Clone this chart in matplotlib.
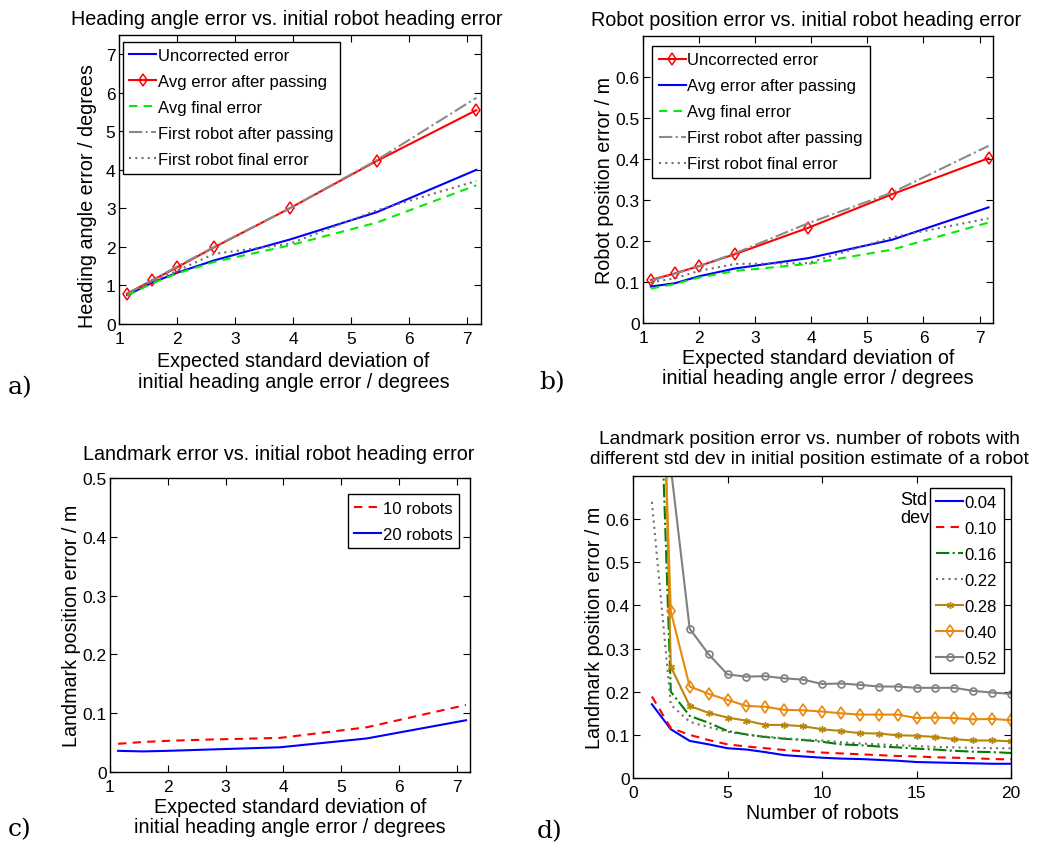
import matplotlib
matplotlib.use("Agg")
import matplotlib.pyplot as plt
from matplotlib.ticker import FixedLocator, FixedFormatter

plt.rcParams['font.family'] = ['Liberation Sans', 'DejaVu Sans']
plt.rcParams['font.size'] = 12

# ---------------- data ----------------
init_heading_std = [1.14, 1.57, 2.0, 2.64, 3.94, 5.44, 7.16]

# a) heading angle error (degrees)
a_uncorrected = [0.75, 1.07, 1.33, 1.65, 2.19, 2.90, 4.00]
a_avg_after_passing = [0.79, 1.13, 1.47, 1.99, 3.00, 4.23, 5.55]
a_avg_final = [0.74, 1.05, 1.31, 1.61, 2.04, 2.63, 3.60]
a_first_after_passing = [0.78, 1.14, 1.49, 2.00, 3.00, 4.25, 5.87]
a_first_final = [0.77, 1.10, 1.38, 1.82, 2.08, 2.95, 3.71]

# b) robot position error (m)
b_uncorrected = [0.105, 0.121, 0.139, 0.168, 0.232, 0.314, 0.402]
b_avg_after_passing = [0.089, 0.097, 0.114, 0.133, 0.158, 0.203, 0.282]
b_avg_final = [0.084, 0.095, 0.111, 0.127, 0.144, 0.179, 0.245]
b_first_after_passing = [0.103, 0.120, 0.138, 0.170, 0.243, 0.318, 0.432]
b_first_final = [0.099, 0.109, 0.127, 0.144, 0.146, 0.209, 0.255]

# c) landmark error (m)
c_10_robots = [0.048, 0.051, 0.053, 0.055, 0.058, 0.076, 0.114]
c_20_robots = [0.036, 0.035, 0.036, 0.038, 0.042, 0.057, 0.088]

# d) landmark error vs number of robots
n_robots = list(range(1, 21))
d_std_labels = ['0.04', '0.10', '0.16', '0.22', '0.28', '0.40', '0.52']
d_004 = [0.171, 0.113, 0.086, 0.078, 0.069, 0.066, 0.060, 0.053, 0.050, 0.047,
         0.045, 0.044, 0.042, 0.040, 0.037, 0.036, 0.035, 0.034, 0.033, 0.033]
d_010 = [0.189, 0.116, 0.100, 0.088, 0.078, 0.073, 0.069, 0.065, 0.062, 0.059,
         0.057, 0.055, 0.053, 0.051, 0.050, 0.048, 0.047, 0.046, 0.044, 0.043]
d_016 = [1.50, 0.200, 0.144, 0.128, 0.109, 0.101, 0.095, 0.091, 0.088, 0.084,
         0.078, 0.076, 0.073, 0.071, 0.068, 0.066, 0.063, 0.061, 0.060, 0.058]
d_022 = [0.640, 0.170, 0.130, 0.118, 0.107, 0.100, 0.096, 0.092, 0.089, 0.087,
         0.083, 0.080, 0.078, 0.076, 0.074, 0.072, 0.071, 0.070, 0.069, 0.069]
d_028 = [2.10, 0.258, 0.167, 0.151, 0.140, 0.133, 0.123, 0.123, 0.120, 0.113,
         0.109, 0.104, 0.103, 0.099, 0.098, 0.095, 0.090, 0.087, 0.087, 0.085]
d_040 = [1.70, 0.386, 0.212, 0.195, 0.181, 0.167, 0.165, 0.158, 0.157, 0.154,
         0.150, 0.147, 0.147, 0.147, 0.139, 0.140, 0.139, 0.136, 0.137, 0.134]
d_052 = [1.20, 0.720, 0.346, 0.287, 0.240, 0.235, 0.236, 0.231, 0.228, 0.218,
         0.219, 0.216, 0.212, 0.212, 0.209, 0.209, 0.209, 0.202, 0.198, 0.195]

# ---------------- figure ----------------
W, H = 1048, 845
fig = plt.figure(figsize=(W / 100, H / 100), dpi=100)

TITLE_FS = 14.2
LABEL_FS = 14.2
TICK_FS = 12.5
LEG_FS = 12
SERIF = ['DejaVu Serif']


def px_axes(l, t, r, b):
    return fig.add_axes([l / W, 1 - b / H, (r - l) / W, (b - t) / H])


def style(ax, xticks, yticks, ylabels, xlim, ylim):
    ax.set_xlim(*xlim)
    ax.set_ylim(*ylim)
    ax.xaxis.set_major_locator(FixedLocator(xticks))
    ax.xaxis.set_major_formatter(FixedFormatter([str(t) for t in xticks]))
    ax.yaxis.set_major_locator(FixedLocator(yticks))
    ax.yaxis.set_major_formatter(FixedFormatter(ylabels))
    ax.tick_params(direction='in', top=True, right=True, length=5, width=0.8,
                   labelsize=TICK_FS)
    ax.tick_params(axis='x', pad=5)
    ax.tick_params(axis='y', pad=2.5)
    for s in ax.spines.values():
        s.set_linewidth(1.0)


def legend(ax, loc, anchor):
    leg = ax.legend(fontsize=LEG_FS, frameon=True, fancybox=False, framealpha=1,
                    edgecolor='black', handlelength=1.6, handletextpad=0.1,
                    labelspacing=0.66, borderpad=0.4, borderaxespad=0.0,
                    loc=loc, bbox_to_anchor=anchor)
    leg.get_frame().set_linewidth(1.0)
    return leg


LW = 1.5
xlab = 'Expected standard deviation of\ninitial heading angle error / degrees'

# ---- a) ----
ax = px_axes(119, 36, 481, 325)
ax.plot(init_heading_std, a_uncorrected, color='#0000ff', lw=LW, label='Uncorrected error')
ax.plot(init_heading_std, a_avg_after_passing, color='#ff0000', lw=LW, marker='d',
        ms=6, mfc='none', mew=1.1, label='Avg error after passing')
ax.plot(init_heading_std, a_avg_final, color='#00ee00', lw=LW, ls=(0, (4, 3)), label='Avg final error')
ax.plot(init_heading_std, a_first_after_passing, color='#8a8a8a', lw=LW, ls='-.', label='First robot after passing')
ax.plot(init_heading_std, a_first_final, color='#707070', lw=LW, ls=(0, (1, 2)), label='First robot final error')
style(ax, [1, 2, 3, 4, 5, 6, 7], [0, 1, 2, 3, 4, 5, 6, 7],
      ['0', '1', '2', '3', '4', '5', '6', '7'], (1, 7.24), (0, 7.5))
ax.set_title('Heading angle error vs. initial robot heading error', fontsize=TITLE_FS, pad=8, x=0.464)
ax.set_ylabel('Heading angle error / degrees', fontsize=LABEL_FS, labelpad=7)
ax.yaxis.set_label_coords(-0.060, 0.446)
ax.set_xlabel(xlab, fontsize=LABEL_FS, labelpad=2, linespacing=1.1)
ax.xaxis.set_label_coords(0.482, -0.095)
ax.xaxis.label.set_va('top')
legend(ax, 'upper left', (0.010, 0.977))
fig.text(8 / W, 1 - 388 / H, 'a)', family=SERIF, fontsize=18, va='center', ha='left')

# ---- b) ----
ax = px_axes(643, 37, 993, 324)
ax.plot(init_heading_std, b_uncorrected, color='#ff0000', lw=LW, marker='d',
        ms=6, mfc='none', mew=1.1, label='Uncorrected error')
ax.plot(init_heading_std, b_avg_after_passing, color='#0000ff', lw=LW, label='Avg error after passing')
ax.plot(init_heading_std, b_avg_final, color='#00ee00', lw=LW, ls=(0, (4, 3)), label='Avg final error')
ax.plot(init_heading_std, b_first_after_passing, color='#8a8a8a', lw=LW, ls='-.', label='First robot after passing')
ax.plot(init_heading_std, b_first_final, color='#707070', lw=LW, ls=(0, (1, 2)), label='First robot final error')
style(ax, [1, 2, 3, 4, 5, 6, 7], [0, 0.1, 0.2, 0.3, 0.4, 0.5, 0.6],
      ['0', '0.1', '0.2', '0.3', '0.4', '0.5', '0.6'], (1, 7.24), (0, 0.7))
ax.set_title('Robot position error vs. initial robot heading error', fontsize=TITLE_FS, pad=8, x=0.466)
ax.set_ylabel('Robot position error / m', fontsize=LABEL_FS, labelpad=1)
ax.set_xlabel(xlab, fontsize=LABEL_FS, labelpad=2, linespacing=1.1)
legend(ax, 'upper left', (0.027, 0.966))
fig.text(539 / W, 1 - 383 / H, 'b)', family=SERIF, fontsize=18, va='center', ha='left')

# ---- c) ----
ax = px_axes(110, 479, 470, 773)
ax.plot(init_heading_std, c_10_robots, color='#ff0000', lw=LW, ls=(0, (4, 3)), label='10 robots')
ax.plot(init_heading_std, c_20_robots, color='#0000ff', lw=LW, label='20 robots')
style(ax, [1, 2, 3, 4, 5, 6, 7], [0, 0.1, 0.2, 0.3, 0.4, 0.5],
      ['0', '0.1', '0.2', '0.3', '0.4', '0.5'], (1, 7.23), (0, 0.5))
ax.set_title('Landmark error vs. initial robot heading error', fontsize=TITLE_FS, pad=14, x=0.469)
ax.set_ylabel('Landmark position error / m', fontsize=LABEL_FS, labelpad=1)
ax.set_xlabel(xlab, fontsize=LABEL_FS, labelpad=2, linespacing=1.1)
legend(ax, 'upper right', (0.970, 0.946))
fig.text(8 / W, 1 - 830 / H, 'c)', family=SERIF, fontsize=18, va='center', ha='left')

# ---- d) ----
ax = px_axes(633, 477, 1011, 779)
d_series = [d_004, d_010, d_016, d_022, d_028, d_040, d_052]
d_styles = [
    dict(color='#0000ff', ls='-'),
    dict(color='#ff0000', ls=(0, (4, 3))),
    dict(color='#008000', ls='-.'),
    dict(color='#707070', ls=(0, (1, 2))),
    dict(color='#b8860b', ls='-', marker=(6, 2, 0), ms=5, mew=1.0),
    dict(color='#e8890c', ls='-', marker='d', ms=6, mfc='none', mew=1.2),
    dict(color='#808080', ls='-', marker='o', ms=5, mfc='none', mew=1.2),
]
for vals, lab, st in zip(d_series, d_std_labels, d_styles):
    ax.plot(n_robots, vals, lw=LW, label=lab, **st)
style(ax, [0, 5, 10, 15, 20], [0, 0.1, 0.2, 0.3, 0.4, 0.5, 0.6],
      ['0', '0.1', '0.2', '0.3', '0.4', '0.5', '0.6'], (0, 20), (0, 0.7))
ax.set_title('Landmark position error vs. number of robots with\n'
             'different std dev in initial position estimate of a robot',
             fontsize=13.8, pad=9, linespacing=1.28, x=0.466)
ax.set_ylabel('Landmark position error / m', fontsize=LABEL_FS, labelpad=1)
ax.set_xlabel('Number of robots', fontsize=LABEL_FS, labelpad=2)
legend(ax, 'upper right', (0.981, 0.959))
ax.text(0.706, 0.950, 'Std\ndev', transform=ax.transAxes, fontsize=13,
        ha='left', va='top', linespacing=1.1)
fig.text(537 / W, 1 - 832 / H, 'd)', family=SERIF, fontsize=18, va='center', ha='left')

fig.savefig('out.png', dpi=100)
